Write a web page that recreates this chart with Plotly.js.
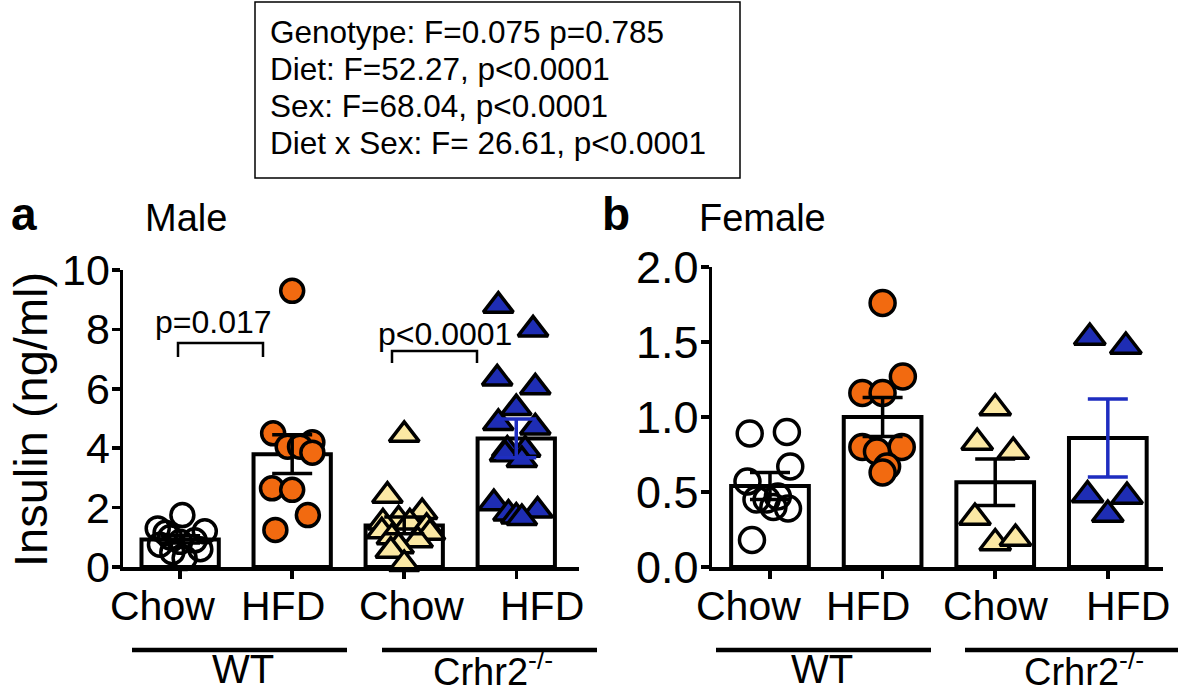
<!DOCTYPE html>
<html>
<head>
<meta charset="utf-8">
<script src="https://cdn.plot.ly/plotly-3.0.1.min.js"></script>
<style>html,body{margin:0;padding:0;background:#fff;}#chart{width:1181px;height:694px;}</style>
</head>
<body>
<div id="chart"></div>
<script>
// ---------- data ----------
const categories = ['Chow', 'HFD', 'Chow', 'HFD'];
const groupLabels = ['WT', 'Crhr2<sup>-/-</sup>'];
const statsLines = [
  'Genotype: F=0.075 p=0.785',
  'Diet: F=52.27, p<0.0001',
  'Sex: F=68.04, p<0.0001',
  'Diet x Sex: F= 26.61, p<0.0001'
];
const pMale = ['p=0.017', 'p<0.0001'];

// Male (ng/ml)
const maleMeans = [0.93, 3.8, 1.4, 4.33];
const maleSem = [0.12, 0.65, 0.28, 0.65];
const maleWtChow = [1.75, 1.3, 1.2, 1.15, 1.0, 0.9, 0.85, 0.75, 0.6, 0.5, 0.3];
const maleWtChowJit = [0.02, -0.2, 0.22, -0.13, -0.09, 0.13, 0, -0.18, 0.18, -0.07, 0.04];
const maleWtHfd = [9.3, 4.5, 4.2, 4.05, 4.05, 3.85, 2.65, 2.6, 1.75, 1.25];
const maleWtHfdJit = [0, -0.17, 0.18, -0.04, 0.07, 0.18, -0.18, 0, 0.14, -0.15];
const maleKoChow = [4.45, 2.4, 1.85, 1.6, 1.5, 1.5, 1.35, 1.2, 1.15, 1.0, 0.9, 0.7, 0.55, 0.1];
const maleKoChowJit = [0, -0.15, 0.16, -0.05, -0.19, 0.05, 0.2, -0.2, 0.23, -0.11, 0.12, -0.05, -0.12, 0];
const maleKoHfd = [8.8, 8.0, 6.35, 6.05, 5.35, 4.85, 4.7, 3.95, 3.95, 3.8, 3.6, 2.15, 1.9, 1.8, 1.7, 1.65];
const maleKoHfdJit = [-0.16, 0.15, -0.17, 0.17, 0, -0.16, 0.17, -0.08, 0.08, -0.1, 0.05, -0.2, 0.19, -0.07, 0, 0.05];

// Female (ng/ml)
const femaleMeans = [0.54, 1.0, 0.565, 0.86];
const femaleSem = [0.09, 0.13, 0.155, 0.26];
const femaleWtChow = [0.89, 0.9, 0.67, 0.57, 0.45, 0.45, 0.47, 0.39, 0.4, 0.18];
const femaleWtChowJit = [-0.18, 0.15, 0.18, -0.2, -0.12, -0.03, 0.07, 0.16, 0.03, -0.16];
const femaleWtHfd = [1.76, 1.27, 1.16, 1.16, 0.8, 0.8, 0.77, 0.67, 0.63];
const femaleWtHfdJit = [0, 0.18, -0.18, 0, -0.18, 0.17, -0.05, 0.04, 0];
const femaleKoChow = [1.06, 0.83, 0.77, 0.33, 0.16, 0.19];
const femaleKoChowJit = [0, -0.16, 0.16, -0.18, 0, 0.18];
const femaleKoHfd = [1.53, 1.47, 0.48, 0.47, 0.35];
const femaleKoHfdJit = [-0.16, 0.16, -0.18, 0.17, 0];

// ---------- styles ----------
const FONT = 'Liberation Sans, Arial, sans-serif';
const ORANGE = '#F26A10';
const YELLOW = '#FBE8A4';
const BLUE = '#1E2DB4';
const ERRBLUE = '#1E2DC0';
const W = 1181, H = 694;
const px = x => x / W;
const py = y => 1 - y / H;

const traces = [];
function panel(xa, ya, means, sem, groups, circSize, triSize) {
  traces.push({
    type: 'bar', x: [0, 1, 2, 3], y: means, width: 0.69, xaxis: xa, yaxis: ya,
    marker: {color: 'white', line: {color: 'black', width: 4}}, hoverinfo: 'skip'
  });
  groups.forEach((g, i) => {
    traces.push({
      type: 'scatter', mode: 'markers', xaxis: xa, yaxis: ya, cliponaxis: false,
      x: g.vals.map((v, k) => i + g.jit[k]), y: g.vals,
      marker: {symbol: g.symbol, size: g.symbol === 'circle' ? circSize : triSize, color: g.fill, line: {color: 'black', width: 3.5}}
    });
  });
  means.forEach((m, i) => {
    traces.push({
      type: 'scatter', mode: 'markers', xaxis: xa, yaxis: ya, cliponaxis: false,
      x: [i], y: [m], marker: {size: 1, color: 'rgba(0,0,0,0)'},
      error_y: {type: 'data', array: [sem[i]], visible: true, color: i === 3 ? ERRBLUE : 'black', thickness: 3.5, width: 20}
    });
  });
}

panel('x', 'y', maleMeans, maleSem, [
  {vals: maleWtChow, jit: maleWtChowJit, symbol: 'circle', fill: 'rgba(0,0,0,0)'},
  {vals: maleWtHfd, jit: maleWtHfdJit, symbol: 'circle', fill: ORANGE},
  {vals: maleKoChow, jit: maleKoChowJit, symbol: 'triangle-up', fill: YELLOW},
  {vals: maleKoHfd, jit: maleKoHfdJit, symbol: 'triangle-up', fill: BLUE}
], 23, 26);
panel('x2', 'y2', femaleMeans, femaleSem, [
  {vals: femaleWtChow, jit: femaleWtChowJit, symbol: 'circle', fill: 'rgba(0,0,0,0)'},
  {vals: femaleWtHfd, jit: femaleWtHfdJit, symbol: 'circle', fill: ORANGE},
  {vals: femaleKoChow, jit: femaleKoChowJit, symbol: 'triangle-up', fill: YELLOW},
  {vals: femaleKoHfd, jit: femaleKoHfdJit, symbol: 'triangle-up', fill: BLUE}
], 25, 27);

const axBase = {
  showline: true, linewidth: 3.5, linecolor: 'black', showgrid: false, zeroline: false,
  ticks: 'outside', ticklen: 8, tickwidth: 3.5, tickcolor: 'black',
  tickfont: {size: 43, family: FONT, color: 'black'}, fixedrange: true
};
const yTop = py(270), yTop2 = py(267), yBot = py(567);

const shapes = [];
const annotations = [];
function line(x0, y0, x1, y1, w) {
  shapes.push({type: 'line', xref: 'paper', yref: 'paper', x0: px(x0), y0: py(y0), x1: px(x1), y1: py(y1), line: {color: 'black', width: w}});
}
function text(t, x, y, size, opts) {
  annotations.push(Object.assign({xref: 'paper', yref: 'paper', x: px(x), y: py(y), text: t, showarrow: false,
    font: {size: size, family: FONT, color: 'black'}, xanchor: 'center', yanchor: 'middle'}, opts || {}));
}

// stats box
shapes.push({type: 'rect', xref: 'paper', yref: 'paper', x0: px(255), x1: px(740), y0: py(2), y1: py(178), line: {color: 'black', width: 1.5}});
statsLines.forEach((s, i) => text(s, 268, 32 + i * 37, 31.5, {xanchor: 'left'}));

// panel letters and titles
text('<b>a</b>', 24, 214, 46);
text('Male', 186, 218, 38);
text('<b>b</b>', 616, 214, 46);
text('Female', 762, 218, 38);

// y-axis title
text('Insulin (ng/ml)', 31, 420, 47, {textangle: -90});

// category labels (placed as in the reference, slightly off the ticks)
const maleCatX = [162, 283, 411, 542];
const femaleCatX = [748, 868, 995, 1128];
categories.forEach((c, i) => { text(c, maleCatX[i], 606, 41); text(c, femaleCatX[i], 606, 41); });

// significance brackets
shapes.push({type: 'path', xref: 'paper', yref: 'paper', path: `M ${px(178)} ${py(357)} L ${px(178)} ${py(343)} L ${px(263)} ${py(343)} L ${px(263)} ${py(357)}`, line: {color: 'black', width: 2.5}});
text(pMale[0], 213, 322, 32);
shapes.push({type: 'path', xref: 'paper', yref: 'paper', path: `M ${px(392)} ${py(363)} L ${px(392)} ${py(351)} L ${px(477)} ${py(351)} L ${px(477)} ${py(363)}`, line: {color: 'black', width: 2.5}});
text(pMale[1], 445, 334, 32);

// group underlines and labels
line(132, 650, 347, 650, 4.5);
line(382, 650, 597, 650, 4.5);
line(716, 650, 931, 650, 4.5);
line(965, 650, 1178, 650, 4.5);
text(groupLabels[0], 243, 669, 40);
text(groupLabels[1], 493, 669, 38);
text(groupLabels[0], 822, 669, 40);
text(groupLabels[1], 1084, 669, 38);

const layout = {
  width: W, height: H, margin: {l: 0, r: 0, t: 0, b: 0},
  paper_bgcolor: 'white', plot_bgcolor: 'white', showlegend: false,
  font: {family: FONT, color: 'black'},
  xaxis: Object.assign({}, axBase, {domain: [px(123), px(579)], range: [-0.51, 3.56], tickvals: [0, 1, 2, 3], showticklabels: false, anchor: 'y'}),
  yaxis: Object.assign({}, axBase, {domain: [yBot, yTop], range: [0, 10], tick0: 0, dtick: 2, anchor: 'x', ticklabelstandoff: -7}),
  xaxis2: Object.assign({}, axBase, {domain: [px(712), px(1163)], range: [-0.515, 3.49], tickvals: [0, 1, 2, 3], showticklabels: false, anchor: 'y2'}),
  yaxis2: Object.assign({}, axBase, {domain: [yBot, yTop2], range: [0, 2], tick0: 0, dtick: 0.5, tickformat: '.1f', anchor: 'x2', ticklabelstandoff: -7, tickfont: {size: 45, family: FONT, color: 'black'}}),
  shapes: shapes, annotations: annotations
};

Plotly.newPlot('chart', traces, layout, {staticPlot: true, displayModeBar: false});
</script>
</body>
</html>
